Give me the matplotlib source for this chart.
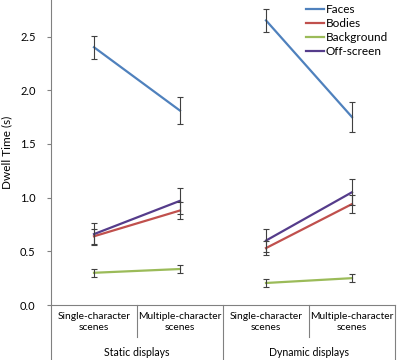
import matplotlib.pyplot as plt
from matplotlib.lines import Line2D

plt.rcParams['font.family'] = ['Lato', 'DejaVu Sans']

conditions = ["Single-character\nscenes", "Multiple-character\nscenes",
              "Single-character\nscenes", "Multiple-character\nscenes"]
groups = ["Static displays", "Dynamic displays"]
series = ["Faces", "Bodies", "Background", "Off-screen"]
colors = ["#4F81BD", "#C0504D", "#9BBB59", "#553C8B"]

faces = [2.40, 1.81, 2.65, 1.75]
faces_err = [0.105, 0.125, 0.11, 0.14]
bodies = [0.64, 0.88, 0.53, 0.94]
bodies_err = [0.07, 0.08, 0.065, 0.085]
background = [0.30, 0.335, 0.205, 0.25]
background_err = [0.035, 0.035, 0.04, 0.035]
offscreen = [0.66, 0.97, 0.60, 1.05]
offscreen_err = [0.10, 0.12, 0.11, 0.12]

values = [faces, bodies, background, offscreen]
errors = [faces_err, bodies_err, background_err, offscreen_err]

fig = plt.figure(figsize=(3.97, 3.6), dpi=100)
ax = fig.add_axes([51 / 397, 55 / 360, 344 / 397, 305 / 360])

x = [0, 1, 2, 3]
for name, vals, errs, col in zip(series, values, errors, colors):
    for g in range(2):
        xs = x[2 * g:2 * g + 2]
        ax.plot(xs, vals[2 * g:2 * g + 2], color=col, lw=1.6, zorder=3)
        ax.errorbar(xs, vals[2 * g:2 * g + 2], yerr=errs[2 * g:2 * g + 2],
                    fmt="none", ecolor="#404040", elinewidth=0.8,
                    capsize=2.5, capthick=0.8, zorder=4)

ax.set_xlim(-0.5, 3.5)
ax.set_ylim(0, 2.84)
ax.set_yticks([0, 0.5, 1.0, 1.5, 2.0, 2.5])
ax.set_yticklabels(["0.0", "0.5", "1.0", "1.5", "2.0", "2.5"], fontsize=8)
ax.tick_params(axis="y", direction="out", length=3, color="#808080",
               width=0.8, pad=8)
ax.set_xticks([])
for s in ["top", "right"]:
    ax.spines[s].set_visible(False)
for s in ["left", "bottom"]:
    ax.spines[s].set_color("#808080")
    ax.spines[s].set_linewidth(0.8)

ax.set_ylabel("Dwell Time (s)", fontsize=8.5)
ax.yaxis.set_label_coords(-0.113, 0.5)

# category table below the axis
trans = ax.get_xaxis_transform()
kw = dict(transform=trans, clip_on=False, color="#808080", lw=0.8)
ax.add_line(Line2D([-0.5, -0.5], [0, -0.18], **kw))
ax.add_line(Line2D([0.5, 0.5], [0, -0.105], **kw))
ax.add_line(Line2D([1.5, 1.5], [0, -0.18], **kw))
ax.add_line(Line2D([2.5, 2.5], [0, -0.105], **kw))
ax.add_line(Line2D([3.5, 3.5], [0, -0.18], **kw))

for xi, lab in zip(x, conditions):
    ax.text(xi, -0.055, lab, transform=trans, ha="center", va="center",
            fontsize=7.4, linespacing=1.35)
for gi, lab in enumerate(groups):
    ax.text(0.5 + 2 * gi, -0.155, lab, transform=trans, ha="center",
            va="center", fontsize=7.6)

handles = [Line2D([], [], color=c, lw=1.6) for c in colors]
ax.legend(handles, series, loc="upper right", bbox_to_anchor=(1.0, 1.01),
          frameon=False, fontsize=8.5, handlelength=1.6, handletextpad=0.1,
          labelspacing=0.25, borderaxespad=0.2)

fig.savefig("out.png", dpi=100)
